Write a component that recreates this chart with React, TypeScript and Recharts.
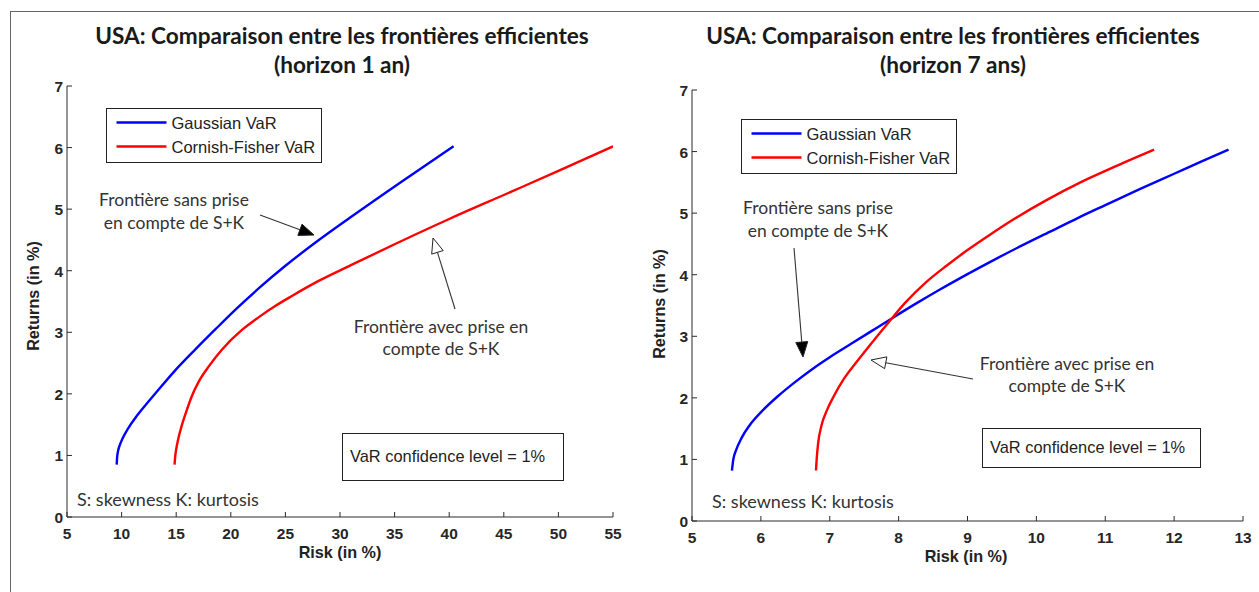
import React from 'react';
import { LineChart, Line, XAxis, YAxis } from 'recharts';

// ---------- DATA ----------
const seriesNames = ['Gaussian VaR', 'Cornish-Fisher VaR'];
const seriesColors = ['#0000ff', '#ff0000'];

// Horizon 1 an
const h1GaussianRisk = [9.55, 9.58, 9.65, 9.8, 10.1, 10.6, 11.3, 12.2, 13.2, 14.85, 16.8, 18.6, 20.5, 22.6, 25.0, 28.0, 30.9, 35.5, 40.4];
const h1GaussianRet = [0.85, 0.95, 1.05, 1.15, 1.28, 1.44, 1.62, 1.82, 2.03, 2.37, 2.73, 3.05, 3.38, 3.72, 4.08, 4.49, 4.86, 5.43, 6.02];
const h1CFRisk = [14.85, 14.9, 15.0, 15.2, 15.5, 15.9, 16.4, 17.1, 18.0, 19.2, 21.1, 22.6, 24.1, 25.6, 28.0, 31.0, 35.0, 40.0, 45.0, 50.0, 55.0];
const h1CFRet = [0.85, 0.97, 1.1, 1.28, 1.48, 1.7, 1.95, 2.21, 2.45, 2.72, 3.05, 3.25, 3.43, 3.59, 3.83, 4.09, 4.43, 4.84, 5.23, 5.62, 6.02];

// Horizon 7 ans
const h7GaussianRisk = [5.58, 5.6, 5.64, 5.72, 5.84, 6.03, 6.25, 6.5, 6.75, 7.0, 7.3, 7.6, 7.9, 8.25, 8.6, 9.0, 9.4, 9.8, 10.2, 10.6, 11.0, 11.5, 12.0, 12.4, 12.79];
const h7GaussianRet = [0.82, 1.0, 1.15, 1.35, 1.56, 1.8, 2.03, 2.26, 2.47, 2.66, 2.87, 3.08, 3.29, 3.53, 3.76, 4.01, 4.25, 4.48, 4.7, 4.92, 5.13, 5.39, 5.64, 5.84, 6.03];
const h7CFRisk = [6.8, 6.81, 6.83, 6.88, 6.96, 7.06, 7.2, 7.38, 7.6, 7.85, 8.1, 8.4, 8.7, 9.0, 9.3, 9.67, 10.16, 10.64, 11.13, 11.71];
const h7CFRet = [0.82, 1.0, 1.25, 1.55, 1.8, 2.03, 2.3, 2.57, 2.88, 3.22, 3.55, 3.88, 4.15, 4.4, 4.63, 4.9, 5.22, 5.5, 5.75, 6.03];

const h1XTicks = [5, 10, 15, 20, 25, 30, 35, 40, 45, 50, 55];
const h7XTicks = [5, 6, 7, 8, 9, 10, 11, 12, 13];
const yTicks = [0, 1, 2, 3, 4, 5, 6, 7];

const titleLine1 = 'USA: Comparaison entre les frontières efficientes';
const h1Title2 = '(horizon 1 an)';
const h7Title2 = '(horizon 7 ans)';
const xLabel = 'Risk (in %)';
const yLabel = 'Returns (in %)';
const noteSans = ['Frontière sans prise', 'en compte de S+K'];
const noteAvec = ['Frontière avec prise en', 'compte de S+K'];
const confText = 'VaR confidence level = 1%';
const skText = 'S: skewness K: kurtosis';

const zip = (xs: number[], ys: number[]) => xs.map((x, i) => ({ x, y: ys[i] }));

// ---------- STYLES ----------
const AXIS = '#2b2b2b';
const tickFont = { fontFamily: '"Liberation Sans Narrow", "Liberation Sans", Arial, sans-serif', fontSize: 15.5, fontWeight: 700, fill: '#262626' } as const;
const calibri = '"Lato", "Noto Sans", sans-serif';
const arial = '"Liberation Sans", Arial, sans-serif';

const BottomTick = (p: any) => (
  <g>
    <line x1={p.x} x2={p.x} y1={p.y} y2={p.y - 5} stroke={AXIS} />
    <text x={p.x} y={p.y + 21.5} textAnchor="middle" {...tickFont}>{p.payload.value}</text>
  </g>
);
const TopTick = (p: any) => <line x1={p.x} x2={p.x} y1={p.y} y2={p.y + 5} stroke={AXIS} />;
const LeftTick = (p: any) => (
  <g>
    <line x1={p.x} x2={p.x + 5} y1={p.y} y2={p.y} stroke={AXIS} />
    <text x={p.x - 4} y={p.y + 6} textAnchor="end" {...tickFont}>{p.payload.value}</text>
  </g>
);
const RightTick = (p: any) => <line x1={p.x} x2={p.x - 5} y1={p.y} y2={p.y} stroke={AXIS} />;

type Series = { name: string; color: string; points: { x: number; y: number }[] };

function Frontier(props: { left: number; width: number; margin: any; xDomain: [number, number]; xTicks: number[]; series: Series[] }) {
  const { left, width, margin, xDomain, xTicks, series } = props;
  return (
    <div style={{ position: 'absolute', left, top: 0 }}>
      <LineChart width={width} height={592} margin={margin}>
        <XAxis xAxisId="b" type="number" dataKey="x" domain={xDomain} ticks={xTicks} allowDataOverflow interval={0}
          height={40} tickSize={0} tickMargin={0} tickLine={false} axisLine={{ stroke: AXIS }} tick={BottomTick} />
        <XAxis xAxisId="t" orientation="top" type="number" dataKey="x" domain={xDomain} ticks={xTicks} allowDataOverflow interval={0}
          height={0} tickSize={0} tickMargin={0} tickLine={false} axisLine={{ stroke: AXIS }} tick={TopTick} />
        <YAxis yAxisId="l" type="number" domain={[0, 7]} ticks={yTicks} allowDataOverflow interval={0}
          width={40} tickSize={0} tickMargin={0} tickLine={false} axisLine={{ stroke: AXIS }} tick={LeftTick} />
        <YAxis yAxisId="r" orientation="right" type="number" domain={[0, 7]} ticks={yTicks} allowDataOverflow interval={0}
          width={0} tickSize={0} tickMargin={0} tickLine={false} axisLine={{ stroke: AXIS }} tick={RightTick} />
        {series.map((s) => (
          <Line key={s.name} name={s.name} xAxisId="b" yAxisId="l" data={s.points} dataKey="y" type="monotone"
            stroke={s.color} strokeWidth={2.4} dot={false} isAnimationActive={false} />
        ))}
        <Line xAxisId="t" yAxisId="r" data={series[0].points} dataKey="y" stroke="none" dot={false} isAnimationActive={false} legendType="none" />
      </LineChart>
    </div>
  );
}

function Arrow({ x1, y1, x2, y2, filled }: { x1: number; y1: number; x2: number; y2: number; filled: boolean }) {
  const dx = x2 - x1, dy = y2 - y1;
  const L = Math.hypot(dx, dy);
  const ux = dx / L, uy = dy / L;
  const hl = 15, hw = 6;
  const bx = x2 - ux * hl, by = y2 - uy * hl;
  const px = -uy, py = ux;
  const pts = `${x2},${y2} ${bx + px * hw},${by + py * hw} ${bx - px * hw},${by - py * hw}`;
  return (
    <g>
      <line x1={x1} y1={y1} x2={bx} y2={by} stroke="#333" strokeWidth={1.1} />
      <polygon points={pts} fill={filled ? '#000' : '#fff'} stroke="#222" strokeWidth={1} />
    </g>
  );
}

function LegendBox({ x, y, w, h }: { x: number; y: number; w: number; h: number }) {
  return (
    <g>
      <rect x={x} y={y} width={w} height={h} fill="#fff" stroke="#222" strokeWidth={1} />
      {seriesNames.map((n, i) => (
        <g key={n}>
          <line x1={x + 10} x2={x + 60} y1={y + 14 + i * 24} y2={y + 14 + i * 24} stroke={seriesColors[i]} strokeWidth={2.4} />
          <text x={x + 65} y={y + 20 + i * 24} fontFamily={arial} fontSize={16.5} fill="#222">{n}</text>
        </g>
      ))}
    </g>
  );
}

function Overlay() {
  const titleStyle = { fontFamily: calibri, fontSize: 22.6, fontWeight: 700, fill: '#1a1a1a', textAnchor: 'middle' as const };
  const noteStyle = { fontFamily: calibri, fontSize: 17.5, fill: '#333', textAnchor: 'middle' as const };
  const axTitle = { fontFamily: '"Liberation Sans Narrow", "Liberation Sans", Arial, sans-serif', fontSize: 16.2, fontWeight: 700, fill: '#222', textAnchor: 'middle' as const };
  return (
    <svg width={1259} height={592} style={{ position: 'absolute', left: 0, top: 0, pointerEvents: 'none' }}>
      {/* outer frame */}
      <line x1={10} y1={11.5} x2={1259} y2={11.5} stroke="#666" strokeWidth={1} />
      <line x1={10.5} y1={11} x2={10.5} y2={592} stroke="#666" strokeWidth={1} />

      {/* titles */}
      <text x={342} y={44} {...titleStyle}>{titleLine1}</text>
      <text x={342} y={73} {...titleStyle}>{h1Title2}</text>
      <text x={953} y={44} {...titleStyle}>{titleLine1}</text>
      <text x={953} y={73} {...titleStyle}>{h7Title2}</text>

      {/* axis titles */}
      <text x={340} y={558} {...axTitle}>{xLabel}</text>
      <text x={966} y={562} {...axTitle}>{xLabel}</text>
      <text transform="translate(39,296) rotate(-90)" {...axTitle}>{yLabel}</text>
      <text transform="translate(665,304) rotate(-90)" {...axTitle}>{yLabel}</text>

      {/* legends */}
      <LegendBox x={106.5} y={108.5} w={215} h={54} />
      <LegendBox x={741.5} y={119.5} w={215} h={54} />

      {/* left annotations */}
      <text x={174} y={206} {...noteStyle}>{noteSans[0]}</text>
      <text x={174} y={229} {...noteStyle}>{noteSans[1]}</text>
      <Arrow x1={260} y1={215} x2={314} y2={235} filled />
      <text x={441} y={333} {...noteStyle}>{noteAvec[0]}</text>
      <text x={441} y={355} {...noteStyle}>{noteAvec[1]}</text>
      <Arrow x1={455} y1={309} x2={433} y2={238} filled={false} />

      {/* right annotations */}
      <text x={818} y={214} {...noteStyle}>{noteSans[0]}</text>
      <text x={818} y={237} {...noteStyle}>{noteSans[1]}</text>
      <Arrow x1={794} y1={248} x2={803} y2={357} filled />
      <text x={1067} y={370} {...noteStyle}>{noteAvec[0]}</text>
      <text x={1067} y={392} {...noteStyle}>{noteAvec[1]}</text>
      <Arrow x1={973} y1={379} x2={871} y2={360} filled={false} />

      {/* confidence boxes */}
      <rect x={342.5} y={433.5} width={221} height={47} fill="#fff" stroke="#222" />
      <text x={350} y={462} fontFamily={arial} fontSize={16.4} fill="#222">{confText}</text>
      <rect x={982.5} y={428.5} width={218} height={39} fill="#fff" stroke="#222" />
      <text x={990} y={453} fontFamily={arial} fontSize={16.4} fill="#222">{confText}</text>

      {/* skewness notes */}
      <text x={77} y={506} fontFamily={calibri} fontSize={18} fill="#333">{skText}</text>
      <text x={712} y={508} fontFamily={calibri} fontSize={18} fill="#333">{skText}</text>
    </svg>
  );
}

export default function App() {
  const h1Series: Series[] = [
    { name: seriesNames[0], color: seriesColors[0], points: zip(h1GaussianRisk, h1GaussianRet) },
    { name: seriesNames[1], color: seriesColors[1], points: zip(h1CFRisk, h1CFRet) },
  ];
  const h7Series: Series[] = [
    { name: seriesNames[0], color: seriesColors[0], points: zip(h7GaussianRisk, h7GaussianRet) },
    { name: seriesNames[1], color: seriesColors[1], points: zip(h7CFRisk, h7CFRet) },
  ];
  return (
    <div style={{ position: 'absolute', left: 0, top: 0, width: 1259, height: 592, background: '#fff', overflow: 'hidden' }}>
      <Frontier left={0} width={630} margin={{ top: 86, right: 17, bottom: 35, left: 27 }} xDomain={[5, 55]} xTicks={h1XTicks} series={h1Series} />
      <Frontier left={630} width={629} margin={{ top: 90, right: 16, bottom: 31, left: 22 }} xDomain={[5, 13]} xTicks={h7XTicks} series={h7Series} />
      <Overlay />
    </div>
  );
}
